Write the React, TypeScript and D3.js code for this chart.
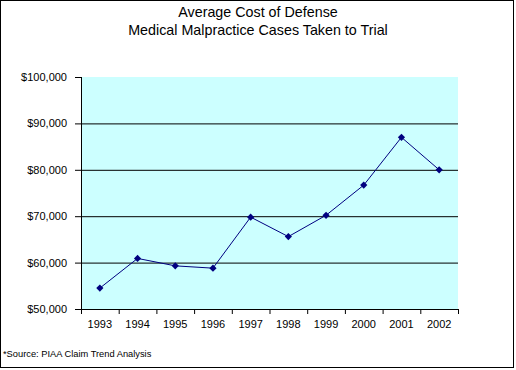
import React from 'react';
import * as d3 from 'd3';

const years = ['1993', '1994', '1995', '1996', '1997', '1998', '1999', '2000', '2001', '2002'];
const costs = [54500, 60900, 59300, 58800, 69800, 65600, 70200, 76700, 87000, 80000];
const yTicks = [50000, 60000, 70000, 80000, 90000, 100000];
const titleLines = ['Average Cost of Defense', 'Medical Malpractice Cases Taken to Trial'];
const sourceNote = '*Source: PIAA Claim Trend Analysis';

const App = () => {
  const width = 516;
  const height = 370;
  const plot = { left: 81, right: 458, top: 77, bottom: 309 };
  const font = '"Liberation Sans", Arial, sans-serif';

  const x = d3.scaleBand().domain(years).range([plot.left, plot.right]);
  const y = d3.scaleLinear().domain([50000, 100000]).range([plot.bottom, plot.top]);
  const fmt = (v) => '$' + d3.format(',')(v);

  const line = d3
    .line()
    .x((d, i) => x(years[i]) + x.bandwidth() / 2)
    .y((d) => y(d));

  // excel-style marker: square turned 45 degrees
  const marker = d3.symbol().type(d3.symbolSquare).size(26)();

  return (
    <svg width={width} height={height} style={{ position: 'absolute', left: 0, top: 0 }} fontFamily={font}>
      <rect x={0} y={0} width={width} height={height} fill='#ffffff' />
      <rect x={0.5} y={0.5} width={513} height={367} fill='none' stroke='#000' strokeWidth={1} />

      {/* title */}
      {titleLines.map((t, i) => (
        <text key={t} x={258} y={17 + i * 18} textAnchor='middle' fontSize={14.3} fill='#000'>
          {t}
        </text>
      ))}

      {/* plot area */}
      <rect x={plot.left} y={plot.top} width={plot.right - plot.left} height={plot.bottom - plot.top} fill='#ccffff' />

      {/* gridlines and y labels */}
      {yTicks.map((v) => (
        <g key={v}>
          {v > 50000 && v < 100000 && (
            <line x1={plot.left} x2={plot.right} y1={y(v) + 0.5} y2={y(v) + 0.5} stroke='#000' />
          )}
          <line x1={plot.left - 6} x2={plot.left} y1={y(v) + 0.5} y2={y(v) + 0.5} stroke='#000' />
          <text x={plot.left - 14} y={y(v) + 4} textAnchor='end' fontSize={11} fill='#000'>
            {fmt(v)}
          </text>
        </g>
      ))}

      {/* axes */}
      <line x1={plot.left + 0.5} x2={plot.left + 0.5} y1={plot.top} y2={plot.bottom} stroke='#000' />
      <line x1={plot.left} x2={plot.right} y1={plot.bottom + 0.5} y2={plot.bottom + 0.5} stroke='#000' />
      {years.map((yr) => (
        <line key={'t' + yr} x1={x(yr) + 0.5} x2={x(yr) + 0.5} y1={plot.bottom} y2={plot.bottom + 5} stroke='#000' />
      ))}
      <line x1={plot.right + 0.5} x2={plot.right + 0.5} y1={plot.bottom} y2={plot.bottom + 5} stroke='#000' />
      {years.map((yr) => (
        <text key={'l' + yr} x={x(yr) + x.bandwidth() / 2} y={328} textAnchor='middle' fontSize={11} fill='#000'>
          {yr}
        </text>
      ))}

      {/* series */}
      <path d={line(costs)} fill='none' stroke='#000080' strokeWidth={1} />
      {costs.map((v, i) => (
        <path
          key={i}
          d={marker}
          transform={`translate(${x(years[i]) + x.bandwidth() / 2}, ${y(v)}) rotate(45)`}
          fill='#000080'
        />
      ))}

      <text x={3} y={357} fontSize={9.3} fill='#000'>
        {sourceNote}
      </text>
    </svg>
  );
};

export default App;
